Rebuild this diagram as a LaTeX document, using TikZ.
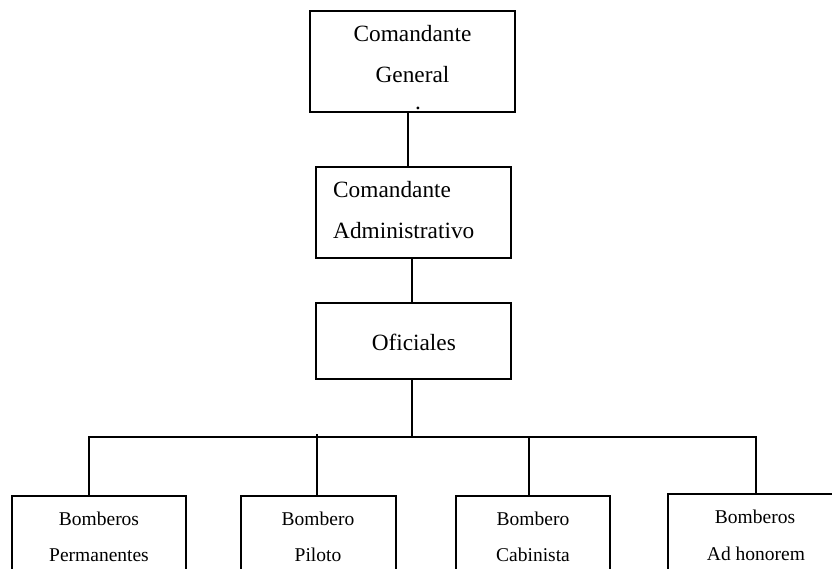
\documentclass[tikz,border=0pt]{standalone}
\usepackage{fontspec}
\setmainfont{Liberation Serif}
\begin{document}
\begin{tikzpicture}[x=1pt,y=-1pt,
  box/.style={draw,line width=2pt,rectangle,inner sep=0pt,outer sep=0pt,anchor=north west},
  bigtext/.style={font=\fontsize{23.3}{28}\selectfont,inner sep=0pt,anchor=base},
  smalltext/.style={font=\fontsize{19.5}{24}\selectfont,inner sep=0pt,anchor=base},
  link/.style={line width=2pt}]
\useasboundingbox (0,0) rectangle (832,569);
\clip (0,0) rectangle (832,569);

% chain of command
\node[box,minimum width=205pt,minimum height=100.5pt] (cg) at (310,11.5) {};
\node[box,minimum width=195pt,minimum height=91pt] (ca) at (316,167) {};
\node[box,minimum width=195pt,minimum height=76pt] (of) at (316,303) {};

\node[bigtext] (cgA) at (412.5,42) {Comandante};
\node[bigtext] (cgB) at (412.5,83) {General};
\node[bigtext] (cgC) at (418,109.5) {.};
\node[bigtext,anchor=base west] (caA) at (333,198) {Comandante};
\node[bigtext,anchor=base west] (caB) at (333,239) {Administrativo};
\node[bigtext] (ofA) at (413.8,350) {Oficiales};

% firefighter groups
\node[box,minimum width=174pt,minimum height=110pt] (b1) at (12,496) {};
\node[box,minimum width=155pt,minimum height=110pt] (b2) at (241,496) {};
\node[box,minimum width=154pt,minimum height=110pt] (b3) at (456,496) {};
\node[box,minimum width=190pt,minimum height=110pt] (b4) at (668,494) {};

\node[smalltext] (b1A) at (99,525) {Bomberos};
\node[smalltext] (b1B) at (99,561.7) {Permanentes};
\node[smalltext] (b2A) at (318,525) {Bombero};
\node[smalltext] (b2B) at (318,561.7) {Piloto};
\node[smalltext] (b3A) at (533,525) {Bombero};
\node[smalltext] (b3B) at (533,561.7) {Cabinista};
\node[smalltext] (b4A) at (755,523) {Bomberos};
\node[smalltext] (b4B) at (756,560) {Ad honorem};

% connectors
\draw[link] ([xshift=-4.5pt]cg.south) -- ([xshift=-5.5pt]ca.north);
\draw[link] ([xshift=-1.5pt]ca.south) -- ([xshift=-1.5pt]of.north);
\coordinate (bus) at (412,437);
\coordinate (j1) at (89,437);
\coordinate (j2) at (317,434);
\coordinate (j3) at (529,437);
\coordinate (j4) at (756,437);
\draw[link] ([xshift=-1.5pt]of.south) -- (bus);
\draw[link] (j1 |- b1.north) -- (j1) -- (j4) -- (j4 |- b4.north);
\draw[link] (j2) -- (j2 |- b2.north);
\draw[link] (j3) -- (j3 |- b3.north);
\end{tikzpicture}
\end{document}
